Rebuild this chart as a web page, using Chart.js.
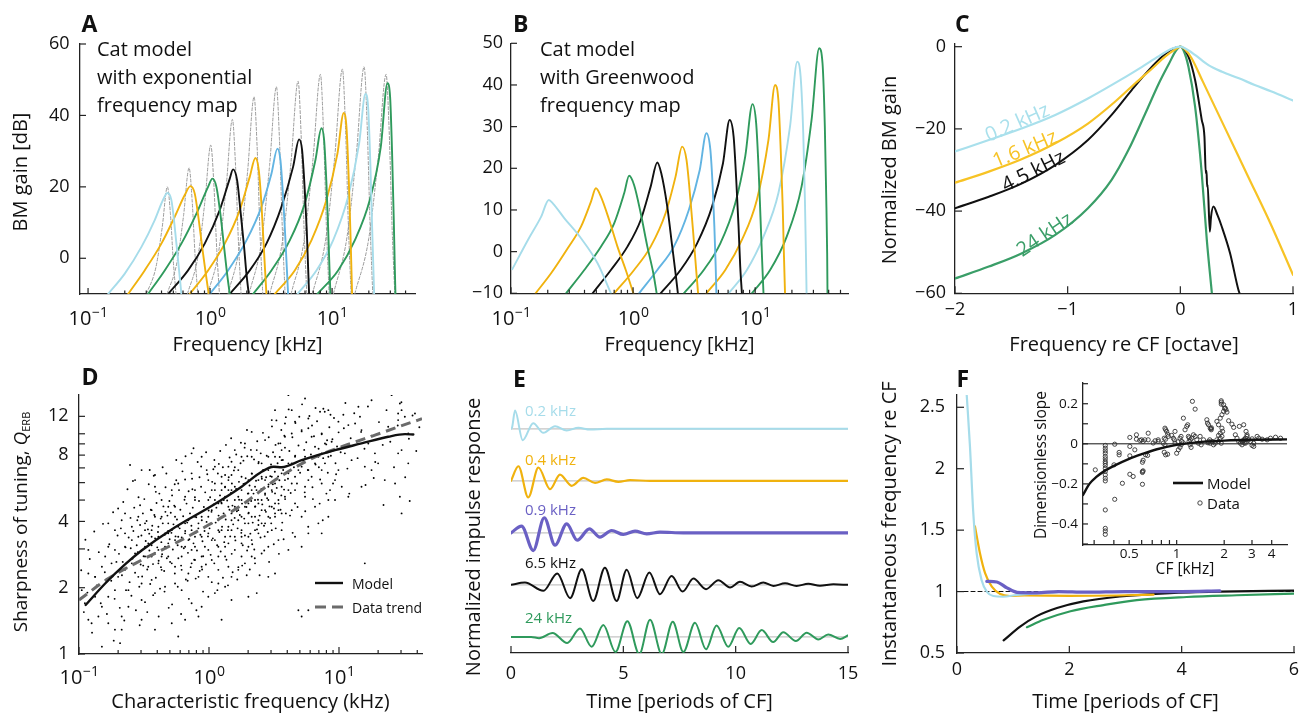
<!DOCTYPE html>
<html><head><meta charset="utf-8">
<script src="https://cdn.jsdelivr.net/npm/chart.js@4.4.1/dist/chart.umd.min.js"></script>
<style>
html,body{margin:0;padding:0;background:#fff;}
#wrap{position:relative;width:1311px;height:716px;overflow:hidden;background:#fff;}
canvas{position:absolute;}
</style></head><body>
<div id="wrap">
<canvas id="cA" width="430" height="362" style="left:0px;top:0px;width:430px;height:362px"></canvas>
<canvas id="cB" width="430" height="362" style="left:440px;top:0px;width:430px;height:362px"></canvas>
<canvas id="cC" width="441" height="362" style="left:870px;top:0px;width:441px;height:362px"></canvas>
<canvas id="cD" width="430" height="386" style="left:0px;top:330px;width:430px;height:386px"></canvas>
<canvas id="cE" width="430" height="386" style="left:440px;top:330px;width:430px;height:386px"></canvas>
<canvas id="cF" width="441" height="386" style="left:870px;top:330px;width:441px;height:386px"></canvas>
<canvas id="cI" width="270" height="215" style="left:1030px;top:370px;width:270px;height:215px"></canvas>
</div>
<script>
// ---------------- DATA ----------------
// Panel A: BM gain (kHz, dB), exponential map
const aLB1=[[0.146,-10],[0.2,-4.3],[0.274,3.2],[0.352,10.7],[0.412,16.4],[0.447,18.3],[0.482,16.3],[0.513,8.8],[0.54,1.3],[0.564,-5.2],[0.582,-10]];
const aGD1=[[0.213,-10],[0.291,-3.4],[0.399,4.1],[0.513,11.6],[0.62,17.7],[0.69,20.2],[0.749,18.1],[0.808,10.7],[0.861,3.2],[0.922,-4.3],[0.975,-10]];
const aGN1=[[0.31,-10],[0.425,-3.4],[0.582,4.1],[0.773,12.5],[0.963,20],[1.045,22.3],[1.127,20],[1.223,11.6],[1.302,3.2],[1.378,-4.3],[1.45,-10]];
const aBK1=[[0.453,-10],[0.66,-3.4],[0.904,4.1],[1.2,13.5],[1.45,22.3],[1.543,24.9],[1.665,21.9],[1.784,12.5],[1.9,3.2],[1.986,-4.3],[2.075,-10]];
const aGD2=[[0.681,-10],[0.963,-3.4],[1.319,4.1],[1.751,13.5],[2.114,22.8],[2.353,28.1],[2.506,24.7],[2.635,15.3],[2.737,5.0],[2.824,-3.4],[2.896,-10]];
const aSK1=[[0.994,-10],[1.404,-3.4],[1.986,5.0],[2.635,14.4],[3.183,23.7],[3.564,30.7],[3.772,27.5],[3.967,17.2],[4.12,6.9],[4.251,-2.4],[4.359,-10]];
const aBK2=[[1.45,-10],[2.114,-3.4],[2.896,4.1],[3.844,14.4],[4.789,25.6],[5.364,33.3],[5.677,30.3],[5.97,19.1],[6.199,7.9],[6.357,-2.4],[6.478,-10]];
const aGN2=[[2.252,-10],[3.183,-3.4],[4.498,5.0],[5.97,15.3],[7.302,27.5],[8.177,36.4],[8.6,33.1],[8.987,20.9],[9.273,8.8],[9.508,-2.4],[9.69,-10]];
const aGD3=[[3.388,-10],[4.943,-3.4],[6.77,5.0],[8.987,16.3],[11.06,29.3],[12.46,40.7],[13.11,36.8],[13.7,21.9],[14.14,6.9],[14.41,-3.4],[14.58,-10]];
const aLB2=[[5.197,-10],[7.441,-3.4],[10.19,5.0],[13.53,17.2],[16.65,32.1],[18.76,46.0],[19.73,42.4],[20.62,25.6],[21.28,8.8],[21.82,-3.4],[22.1,-10]];
const aGN3=[[7.583,-10],[11.2,-3.4],[15.34,5.0],[20.36,16.3],[25.06,31.2],[28.41,49.0],[29.88,45.2],[31.03,29.3],[32.03,10.7],[32.64,-2.4],[33.04,-10]];
// Panel A: grey dashed reference curves
const aRef1=[[0.301,-10],[0.36,-2.5],[0.405,8.6],[0.447,20],[0.473,12.5],[0.5,-1],[0.526,-10]];
const aRef2=[[0.444,-10],[0.535,-1.2],[0.606,11.9],[0.673,25.3],[0.712,16.5],[0.754,0.6],[0.792,-10]];
const aRef3=[[0.652,-10],[0.795,0.4],[0.907,15.9],[1.013,31.7],[1.072,21.3],[1.134,2.5],[1.193,-10]];
const aRef4=[[0.957,-10],[1.18,2.2],[1.357,20.3],[1.524,38.9],[1.613,26.7],[1.707,4.7],[1.795,-10]];
const aRef5=[[1.404,-10],[1.752,3.8],[2.029,24.2],[2.295,45.2],[2.428,31.4],[2.569,6.6],[2.703,-10]];
const aRef6=[[2.088,-10],[2.634,4.5],[3.074,26],[3.498,48],[3.701,33.5],[3.917,7.4],[4.12,-10]];
const aRef7=[[3.083,-10],[3.924,4.9],[4.607,27],[5.264,49.6],[5.571,34.7],[5.896,7.9],[6.199,-10]];
const aRef8=[[4.613,-10],[5.918,5.4],[6.988,28.1],[8.025,51.5],[8.492,36.1],[8.987,8.5],[9.45,-10]];
const aRef9=[[6.9,-10],[8.904,5.75],[10.55,29.1],[12.15,53],[12.86,37.25],[13.61,8.9],[14.31,-10]];
const aRef10=[[10.25,-10],[13.24,5.9],[15.83,29.4],[18.3,53.6],[19.36,37.7],[20.49,9.1],[21.54,-10]];
const aRef11=[[15.34,-10],[19.94,5.4],[23.89,28.1],[27.71,51.5],[29.33,36.1],[31.03,8.5],[32.64,-10]];
// Panel B: BM gain (kHz, dB), Greenwood map
const bLB1=[[0.1025,-4.2],[0.1376,2.8],[0.1767,8.4],[0.204,12.4],[0.22,11.6],[0.274,8.0],[0.3745,3.2],[0.512,-2.8],[0.658,-10]];
const bGD1=[[0.159,-10],[0.213,-5.2],[0.2915,0.8],[0.3745,6],[0.452,12],[0.496,15.2],[0.545,13.2],[0.637,7.6],[0.745,1.2],[0.871,-4.4],[1.006,-10]];
const bGN1=[[0.2825,-10],[0.3985,-4.4],[0.545,1.2],[0.70,6.8],[0.845,14],[0.928,18.2],[1.019,16],[1.155,9.2],[1.309,1.2],[1.465,-5.2],[1.56,-10]];
const bBK1=[[0.466,-10],[0.658,-4.4],[0.899,1.2],[1.155,7.6],[1.393,15.6],[1.579,21.4],[1.702,18.8],[1.905,10.8],[2.093,1.2],[2.228,-5.2],[2.328,-10]];
const bGD2=[[0.70,-10],[1.019,-4.4],[1.393,1.2],[1.846,9.2],[2.228,18],[2.524,25.2],[2.739,22],[2.951,12.4],[3.143,2.8],[3.304,-5.2],[3.408,-10]];
const bSK1=[[1.119,-10],[1.579,-4.4],[2.158,1.2],[2.861,10],[3.516,19.6],[3.986,28.4],[4.296,24.4],[4.487,15.6],[4.632,6],[4.75,-3.6],[4.81,-10]];
const bBK2=[[1.681,-10],[2.447,-4.4],[3.345,2],[4.435,10.8],[5.451,21.2],[6.178,31.6],[6.66,27.6],[7.0,17.2],[7.31,6],[7.546,-3.6],[7.786,-10]];
const bGN2=[[2.605,-10],[3.793,-4.4],[5.186,2],[6.871,11.6],[8.287,22.8],[9.513,35.4],[10.19,30.8],[10.65,20.4],[11.05,8.4],[11.4,-2],[11.7,-10]];
const bGD3=[[3.986,-10],[5.693,-4.4],[7.786,2.8],[10.32,12.4],[12.85,26.8],[14.56,40],[15.49,36.4],[16.19,24.4],[16.81,10.8],[17.22,-1.2],[17.56,-10]];
const bLB2=[[6.062,-10],[8.55,-4.4],[11.7,3.6],[15.49,14],[19.29,30],[22.13,45.6],[23.57,42],[24.77,28.4],[25.56,12.4],[26.05,-0.4],[26.37,-10]];
const bGN3=[[9.394,-10],[13.26,-4.4],[18.13,3.6],[23.99,15.6],[28.97,31.6],[33.46,48.8],[35.62,45.2],[37.21,30],[38.15,14],[38.88,-0.4],[39.12,-10]];
// Panel C: normalized gain (octave re CF, dB)
const c02=[[-2,-25.5],[-1.7,-22.7],[-1.41,-19.9],[-1.11,-16.6],[-0.82,-12.6],[-0.52,-7.9],[-0.34,-4.9],[-0.19,-2.3],[-0.076,-0.5],[0,0],[0.04,-0.4],[0.13,-2.0],[0.25,-4.5],[0.37,-6.1],[0.52,-7.7],[0.66,-9.3],[0.81,-10.9],[1,-13.1]];
const c16=[[-2,-33.1],[-1.7,-30.4],[-1.41,-27.4],[-1.11,-23.5],[-0.82,-18.7],[-0.58,-13.4],[-0.4,-8.9],[-0.25,-5.3],[-0.135,-2.4],[-0.044,-0.65],[0,0],[0.04,-0.6],[0.1,-2.8],[0.2,-8.5],[0.4,-20],[0.6,-31.5],[0.8,-43],[1,-55.5]];
const c45=[[-2,-39.3],[-1.7,-36.5],[-1.41,-33.3],[-1.11,-28.8],[-0.82,-22.7],[-0.61,-16.6],[-0.43,-10.5],[-0.28,-5.7],[-0.16,-2.4],[-0.06,-0.4],[0,0],[0.072,-2.4],[0.131,-8.1],[0.19,-17.8],[0.214,-21.9],[0.226,-30.8],[0.232,-30.2],[0.238,-34.1],[0.242,-33.5],[0.262,-45],[0.272,-41.5],[0.294,-38.9],[0.33,-41],[0.368,-43.8],[0.442,-50.3],[0.516,-59.2],[0.54,-61]];
const c24=[[-2,-56.4],[-1.7,-53.5],[-1.41,-50.3],[-1.11,-45.8],[-0.82,-39.3],[-0.61,-32.4],[-0.46,-25.1],[-0.31,-16.2],[-0.19,-8.9],[-0.1,-4.1],[-0.044,-1.2],[0,0],[0.03,-1],[0.072,-4.9],[0.131,-14.6],[0.19,-30.8],[0.235,-47],[0.28,-60]];
// Panel D: Q_ERB vs CF
const dModel=[[0.1125,1.67],[0.159,2.09],[0.226,2.55],[0.303,2.95],[0.516,3.68],[1.11,4.8],[1.78,5.75],[2.54,6.72],[3.13,7.08],[3.62,7.05],[5.16,7.59],[9.31,8.43],[14.9,9.04],[23.9,9.69],[32.2,9.96],[37.3,9.93]];
const dTrend=[[0.1,1.76],[0.168,2.2],[0.303,2.67],[0.548,3.18],[0.988,3.85],[1.78,4.74],[3.22,6.16],[5.81,7.59],[10.5,8.73],[18.9,9.86],[34.1,11.14],[43.5,11.7]];
const dUnits1=[[4.08,14.98],[5.48,14.46],[7.58,13.0],[7.15,12.6],[8.28,12.8],[14.1,13.26],[17.8,14.2],[29.4,13.73],[25.4,14.98],[28.5,12.37],
[30.3,12.8],[14.5,11.94],[10.8,12.2],[9.9,11.35],[11.8,10.95],[13.3,11.14],[5.81,11.74],[4.33,12.8],[3.84,11.14],[4.59,11.35],
[3.22,12.8],[3.04,11.54],[3.84,9.69],[4.33,10.03],[5.16,10.39],[5.81,10.6],[6.16,9.69],[7.36,10.03],[7.8,9.04],[8.78,9.2],
[6.54,8.73],[8.28,7.86],[11.1,8.15],[12.5,7.59],[15.8,7.09],[17.8,6.84],[20.0,7.34],[22.5,6.16],[14.9,5.75],[9.9,6.84],
[9.32,6.16],[8.53,5.55],[7.36,6.84],[7.36,5.95],[5.81,6.16],[5.48,5.18],[4.59,4.83],[4.33,4.5],[3.62,4.35],[3.22,5.36],
[4.08,5.55],[5.48,7.86],[4.33,7.34],[3.62,8.43],[3.22,7.86],[2.86,6.84],[2.54,7.34],[2.33,8.43],[2.13,10.2],[1.89,9.04],
[1.78,7.86],[1.58,8.43],[1.49,7.46],[1.49,6.5],[1.41,7.09],[1.25,6.38],[1.11,5.95],[1.25,5.55],[1.33,5.18],[1.18,4.83],
[1.05,5.55],[0.988,6.16],[0.878,7.86],[0.96,6.84],[0.735,6.61],[0.616,7.34],[0.735,8.15],[0.78,5.55],[0.655,5.18],[0.58,5.95],
[0.517,5.55],[0.486,4.66],[0.432,5.0],[0.384,5.75],[0.384,6.5],[0.303,6.84],[0.27,6.16],[0.247,7.21],[0.226,4.35],[0.2,4.58],
[0.213,4.05],[0.295,4.74],[0.362,4.5],[0.322,3.92],[0.408,3.78],[0.486,3.92],[0.548,4.2],[0.655,3.92],[0.735,3.65],[0.878,4.2],
[1.05,4.5],[1.25,4.2],[1.49,4.35],[1.58,4.66],[1.78,5.0],[2.01,5.36],[2.26,5.75],[2.54,5.55],[2.7,6.16],[2.86,5.0],
[2.54,4.5],[2.26,4.2],[2.01,3.92],[1.78,3.65],[1.58,3.41],[1.41,3.18],[1.18,3.07],[0.988,2.97],[0.878,2.77],[0.78,3.07],
[0.694,3.29],[0.58,3.41],[0.486,3.18],[0.408,2.97],[0.362,2.77],[0.322,3.07],[0.286,3.41],[0.255,3.29],[0.226,3.07],[0.189,2.97],
[0.168,3.07],[0.159,2.77],[0.118,2.97],[0.118,2.32],[0.133,2.24],[0.15,2.49],[0.178,2.58],[0.2,2.24],[0.24,1.95],[0.303,2.09],
[0.362,2.17],[0.432,2.41],[0.517,2.58],[0.616,2.77],[0.735,2.58],[0.878,2.49],[1.05,2.67],[1.18,2.41],[1.33,2.77],[1.58,2.97],
[1.78,3.18],[2.13,3.29],[2.4,3.53],[2.7,3.92],[3.04,3.65],[3.22,4.2],[3.62,3.65],[3.42,3.29],[2.86,3.07],[2.54,2.86],
[2.13,2.77],[1.89,2.58],[1.68,2.41],[1.49,2.24],[1.33,2.02],[1.11,1.89],[0.988,1.82],[0.878,1.64],[0.735,1.70],[0.616,1.95],
[0.548,2.09],[0.459,2.02],[0.384,1.89],[0.303,1.76],[0.24,1.64],[0.213,1.48],[0.168,1.38],[0.15,1.64],[0.118,1.43],[0.125,1.38],
[0.213,1.29],[0.189,1.29],[0.15,1.08],[0.207,1.12],[0.303,1.43],[0.384,1.29],[0.517,1.38],[0.655,1.43],[0.83,1.48],[0.58,1.20],
[1.25,1.43],[2.01,1.82],[2.33,1.89],[1.49,1.76],[2.86,2.24],[3.22,2.32],[4.08,2.97],[4.59,3.41],[5.16,3.07],[5.81,3.53],
[6.94,3.92],[8.28,4.2],[7.36,3.53],[5.16,4.2],[6.54,4.66],[9.32,5.0],[10.5,5.75],[11.8,5.18],[8.28,5.0],[5.48,5.75],
[4.59,6.38],[30.3,4.35],[15.8,2.58],[5.16,1.48],[5.81,1.58],[4.87,1.58],[28.5,11.54],[34.1,10.03],[30.3,8.43],[34.1,7.34],
[28.5,8.15],[29.4,5.18],[18.9,8.15],[16.8,9.04],[14.9,10.39],[23.9,10.76],[32.1,11.94],[38.4,12.37],[3.62,6.61],[3.22,5.95],
[3.04,4.66],[3.84,5.18],[2.4,4.83],[2.01,4.35],[1.68,4.05],[1.41,3.78],[1.18,3.65],[0.988,3.53],[0.78,3.41],[0.616,3.07],
[0.459,3.53],[0.362,3.41],[0.322,3.65],[0.432,4.2],[0.548,4.66],[0.988,5.0],[1.33,5.75],[1.78,6.38],[2.13,6.61],[1.58,5.75],
[1.11,7.09],[0.78,5.0],[2.26,2.58],[1.78,2.77],[2.01,3.07],[1.41,2.49],[1.18,2.09],[0.988,2.24],[0.83,2.24],[0.694,2.32],
[0.548,2.49],[0.432,2.77],[0.341,2.49],[0.286,2.24],[0.255,2.58],[0.226,2.41],[0.189,1.95],[0.168,1.82],[0.133,1.82],[0.111,1.70],[0.141,1.48],
[1.49,5.55],[1.68,5.18],[1.89,5.95],[2.01,4.83],[2.13,5.55],[2.26,5.0],[2.4,6.16],[2.54,6.38],[2.7,5.36],[2.86,5.75],
[3.04,6.38],[3.42,5.0],[3.62,5.75],[3.84,6.16],[4.08,6.61],[4.33,5.95],[4.59,5.55],[4.87,6.84],[5.16,7.09],[5.81,6.84],
[6.16,6.38],[6.54,7.34],[6.94,7.86],[7.36,8.15],[7.8,7.34],[2.54,3.92],[2.26,3.65],[2.01,3.41],[1.78,3.41],[1.68,4.5],
[1.49,4.05],[1.41,4.66],[1.25,4.83],[1.18,4.05],[1.11,5.0],[1.05,3.92],[0.93,3.78],[0.878,3.41],[0.83,3.92],[0.78,4.2],
[0.694,4.05],[0.655,3.53],[0.58,3.78],[0.548,3.29],[0.517,3.65],[0.486,3.53],[0.459,3.07],[0.408,3.41],[0.362,3.65],[0.341,3.18],
[0.988,4.2],[1.11,3.29],[1.25,3.65],[1.33,3.41],[1.49,3.65],[1.78,4.2],[1.89,3.92],[2.13,4.2],[2.4,4.05],[2.7,4.5],
[2.86,4.2],[3.22,4.83],[3.42,4.5],[3.04,5.55],[2.54,5.0],[2.26,4.66],[1.89,4.66],[1.58,5.0],[1.41,5.55],[1.25,5.95],
[2.01,6.16],[1.78,5.55],[1.68,6.84],[1.41,6.16],[3.22,7.09],[3.62,7.59],[4.08,7.34],[4.59,7.86],[3.42,9.04],[2.86,7.86],
[2.7,9.36],[2.4,7.34],[2.13,7.86],[0.735,2.97],[0.655,3.07],[0.78,2.67],[0.93,3.07],[1.05,3.29],[1.18,2.77],[1.33,3.07],
[0.616,2.41],[0.486,2.77],[0.408,2.58],[0.322,2.77],[0.27,2.86],[0.255,3.78],[0.286,4.2],[0.384,4.2],[0.226,3.53],[0.189,3.65],
[0.168,3.92],[0.133,2.24],[0.105,1.95]];
const dUnits2=[[0.104,2.4],[0.109,1.55],[0.112,3.3],[0.116,1.9],[0.121,2.7],[0.126,1.25],[0.131,3.6],[0.137,2.05],[0.142,2.9],[0.147,1.7],[0.153,3.9],[0.158,2.35],[0.164,1.52],[0.171,3.15],[0.177,2.15],[0.183,4.4],[0.188,1.78],[0.194,2.62],[0.198,3.45],[0.185,1.15],
[0.203,2.85],[0.206,1.62],[0.21,3.72],[0.214,2.28],[0.219,4.9],[0.223,1.42],[0.228,3.05],[0.232,2.46],[0.236,5.6],[0.241,3.38],[0.245,2.12],[0.249,4.15],[0.253,1.84],[0.258,2.71],[0.262,3.62],[0.266,4.62],[0.27,2.34],[0.274,1.58],[0.278,3.12],[0.283,2.9],[0.287,5.15],[0.291,2.02],[0.295,3.85],[0.298,2.55],[0.26,6.1],[0.23,1.95],[0.25,3.02],[0.281,4.05],[0.217,2.62],[0.293,1.35],
[0.302,3.45],[0.306,2.25],[0.31,4.35],[0.314,2.78],[0.318,5.05],[0.322,1.72],[0.326,3.26],[0.331,4.02],[0.335,2.42],[0.339,3.68],[0.344,5.9],[0.348,2.95],[0.353,2.08],[0.357,4.52],[0.362,3.12],[0.366,3.82],[0.371,2.56],[0.376,6.45],[0.38,4.28],[0.385,3.35],[0.39,2.22],[0.395,4.85],[0.4,3.05],[0.405,3.58],[0.41,2.65],[0.415,5.35],[0.42,1.98],[0.425,4.12],[0.43,3.22],[0.436,2.84],[0.441,3.92],[0.446,4.68],[0.452,2.38],[0.457,3.48],[0.463,5.72],[0.468,3.02],[0.474,2.72],[0.479,4.25],[0.485,3.62],[0.49,1.62],[0.496,4.95],[0.335,1.55],[0.372,1.85],[0.41,1.48],[0.455,1.92],[0.47,6.6],[0.44,7.05],[0.39,5.45],[0.35,6.85],[0.312,2.52],[0.427,2.48],[0.462,4.42],[0.498,3.32],[0.383,2.88],[0.347,3.52],
[0.502,2.62],[0.508,4.38],[0.514,3.55],[0.52,5.25],[0.527,2.98],[0.533,3.88],[0.54,4.72],[0.546,2.32],[0.553,3.42],[0.56,6.15],[0.567,4.08],[0.574,3.12],[0.581,2.72],[0.588,5.55],[0.595,3.72],[0.602,4.52],[0.61,2.52],[0.617,3.38],[0.625,6.75],[0.633,4.22],[0.64,3.02],[0.648,5.02],[0.656,3.62],[0.664,2.18],[0.672,4.82],[0.68,3.95],[0.689,2.88],[0.697,5.48],[0.706,3.32],[0.714,4.35],[0.723,2.48],[0.732,3.82],[0.741,6.25],[0.75,4.62],[0.76,3.18],[0.769,2.68],[0.779,5.15],[0.788,3.55],[0.798,4.18],[0.808,2.95],[0.818,7.45],[0.828,3.72],[0.838,4.95],[0.848,2.38],[0.859,3.48],[0.869,5.75],[0.88,4.05],[0.891,3.25],[0.902,2.78],[0.913,4.65],[0.924,3.62],[0.935,5.42],[0.947,2.55],[0.958,3.98],[0.97,6.55],[0.982,3.42],[0.994,4.48],[0.52,1.68],[0.61,1.52],[0.7,1.78],[0.8,1.58],[0.9,1.92],[0.56,7.6],[0.66,7.9],[0.76,8.6],[0.87,7.1],[0.95,8.25],[0.575,2.02],[0.685,2.15],[0.79,2.2],[0.885,2.42],[0.545,5.9],[0.655,6.2],[0.745,5.6],[0.845,6.35],
[1.01,3.72],[1.02,5.15],[1.03,2.82],[1.045,4.42],[1.058,6.05],[1.07,3.35],[1.085,4.78],[1.098,2.58],[1.11,5.55],[1.125,3.95],[1.14,4.62],[1.155,3.12],[1.17,6.6],[1.185,4.25],[1.2,3.58],[1.215,5.25],[1.23,2.92],[1.245,4.88],[1.26,3.78],[1.278,7.05],[1.295,4.35],[1.31,3.22],[1.328,5.72],[1.345,4.08],[1.362,2.68],[1.38,4.98],[1.4,3.65],[1.418,6.35],[1.437,4.52],[1.456,3.42],[1.475,5.38],[1.495,2.85],[1.515,4.72],[1.535,3.88],[1.555,6.82],[1.575,4.15],[1.596,3.28],[1.617,5.62],[1.638,4.45],[1.66,3.72],[1.682,2.48],[1.704,5.02],[1.726,4.28],[1.749,7.35],[1.772,3.55],[1.795,4.82],[1.818,3.12],[1.842,5.92],[1.866,4.12],[1.89,3.45],[1.915,6.28],[1.94,4.65],[1.965,2.95],[1.99,5.35],[1.05,2.12],[1.16,1.95],[1.28,2.22],[1.4,2.05],[1.52,2.35],[1.65,2.18],[1.8,2.52],[1.95,2.28],[1.1,7.6],[1.22,8.35],[1.35,8.9],[1.48,9.55],[1.62,8.05],[1.76,9.1],[1.88,8.65],[1.96,10.4],[1.08,6.9],[1.19,7.3],[1.33,6.5],[1.44,7.8],[1.58,7.05],[1.7,6.05],[1.84,7.55],[1.97,7.9],[1.5,5.95],[1.3,5.0],
[2.02,4.38],[2.05,5.82],[2.08,3.52],[2.11,4.95],[2.14,6.58],[2.17,3.95],[2.2,5.35],[2.23,2.98],[2.27,4.68],[2.3,6.12],[2.34,3.68],[2.38,5.02],[2.41,7.45],[2.45,4.25],[2.49,3.38],[2.53,5.62],[2.57,4.78],[2.61,6.85],[2.65,3.82],[2.7,5.28],[2.74,4.42],[2.78,7.95],[2.83,3.58],[2.87,5.88],[2.92,4.68],[2.96,6.42],[3.01,3.92],[3.06,5.45],[3.11,8.25],[3.16,4.58],[3.21,6.72],[3.26,3.72],[3.32,5.68],[3.37,7.35],[3.43,4.82],[3.48,6.15],[3.54,9.05],[3.6,5.25],[3.66,3.95],[3.72,6.85],[3.78,5.58],[3.84,8.65],[3.9,4.35],[3.96,7.15],[2.06,2.42],[2.25,2.72],[2.45,2.28],[2.66,2.95],[2.9,2.62],[3.15,3.15],[3.45,2.85],[3.75,3.32],[2.1,8.45],[2.35,9.25],[2.6,10.1],[2.88,9.65],[3.05,10.8],[3.3,11.5],[3.6,10.4],[3.9,11.9],[2.22,7.65],[2.5,8.15],[2.75,6.35],[3.0,7.25],[3.25,8.9],[3.5,7.85],[3.8,9.8],[2.15,3.15],[2.4,3.85],[2.68,3.42],[2.95,4.15],[3.22,4.35],[3.55,4.52],[3.85,5.05],[2.32,5.55],[2.55,6.25],[2.8,5.1],[3.1,5.9],[3.4,6.4],[3.7,7.6],
[4.05,6.25],[4.15,8.35],[4.25,5.38],[4.38,9.65],[4.5,7.05],[4.62,11.2],[4.75,5.95],[4.88,8.85],[5.02,6.65],[5.16,10.25],[5.3,7.55],[5.45,5.42],[5.6,9.15],[5.76,6.85],[5.92,12.05],[6.08,8.05],[6.25,5.72],[6.42,9.75],[6.6,7.25],[6.78,11.4],[6.97,8.55],[7.16,6.2],[7.36,9.95],[7.56,7.75],[7.77,12.6],[7.98,8.95],[8.2,6.65],[8.43,10.7],[8.66,7.95],[8.9,9.45],[9.15,11.8],[9.4,7.35],[9.66,8.75],[9.93,10.15],[4.2,4.25],[4.8,4.65],[5.5,4.45],[6.3,5.05],[7.1,4.82],[8.0,5.35],[9.0,5.95],[4.4,3.55],[5.8,3.78],[7.5,4.05],[4.1,12.9],[5.2,13.6],[6.6,13.1],[8.6,12.2],[4.6,7.95],[5.4,8.45],[6.2,10.9],[7.0,7.05],[8.1,9.35],[9.5,6.55],[4.95,11.95],
[10.3,8.25],[10.9,10.6],[11.6,6.95],[12.3,9.55],[13.1,12.4],[13.9,7.75],[14.8,10.2],[15.7,8.55],[16.7,13.3],[17.8,9.8],[19.0,7.45],[20.3,11.3],[21.7,8.9],[23.2,12.8],[24.8,9.2],[26.5,7.05],[28.3,10.9],[30.2,13.9],[32.3,6.35],[34.5,9.5],[36.8,12.1],[39.3,8.35],[41.5,10.7],[12.0,5.35],[16.0,5.85],[22.0,4.75],[27.0,5.95],[35.0,4.95],[18.5,6.3],[11.2,13.8]];
// Panel E: impulse responses (time in CF periods, offset response)
const e02=[[0,4],[0.05,4.03],[0.18,4.35],[0.52,3.78],[0.99,4.109],[1.44,3.923],[1.96,4.051],[2.48,3.968],[3.0,4.019],[3.52,3.987],[4.26,4],[15,4]];
const e04=[[0,3],[0.33,3.28],[0.77,2.68],[1.22,3.256],[1.74,2.84],[2.18,3.12],[2.7,2.904],[3.22,3.058],[3.74,2.962],[4.26,3.026],[4.78,2.981],[5.3,3.013],[6.19,3],[15,3]];
const e09=[[0,2],[0.47,2.128],[0.99,1.66],[1.48,2.29],[1.96,1.763],[2.48,2.173],[2.95,1.859],[3.49,2.077],[3.96,1.917],[4.48,2.045],[5.0,1.968],[5.52,2.032],[6.04,1.98],[6.63,2.013],[7.67,2],[15,2]];
const e65=[[0,1],[0.62,1.045],[1.44,0.885],[2.06,1.22],[2.63,0.744],[3.15,1.30],[3.66,0.69],[4.18,1.33],[4.70,0.69],[5.15,1.29],[5.62,0.744],[6.16,1.237],[6.63,0.82],[7.15,1.17],[7.64,0.87],[8.12,1.12],[8.68,0.917],[9.23,1.09],[9.75,0.95],[10.19,1.058],[10.71,0.968],[11.23,1.045],[11.68,0.98],[12.2,1.03],[12.71,0.98],[13.23,1.02],[13.75,0.985],[14.35,1.01],[15,1]];
const e24=[[0,0],[0.9,0],[1.25,-0.025],[1.85,0.075],[2.5,-0.12],[3.07,0.16],[3.59,-0.19],[4.11,0.23],[4.65,-0.29],[5.18,0.30],[5.71,-0.33],[6.19,0.33],[6.71,-0.33],[7.2,0.29],[7.67,-0.29],[8.19,0.27],[8.68,-0.24],[9.15,0.22],[9.67,-0.19],[10.16,0.17],[10.67,-0.135],[11.16,0.13],[11.67,-0.1],[12.12,0.09],[12.68,-0.08],[13.16,0.08],[13.68,-0.05],[14.12,0.045],[14.65,-0.04],[15,0.03]];
const eOffsets=[4,3,2,1,0];
// Panel F: instantaneous frequency re CF
const fLB=[[0.173,2.6],[0.231,2.18],[0.29,1.64],[0.35,1.31],[0.44,1.09],[0.53,1.0],[0.646,0.964],[0.82,0.958],[1.06,0.972],[1.42,0.986],[1.8,0.995]];
const fGD=[[0.32,1.53],[0.41,1.31],[0.5,1.15],[0.62,1.04],[0.77,0.98],[0.94,0.964],[1.2,0.968],[2,0.965],[3,0.97],[3.5,0.975]];
const fPU=[[0.53,1.083],[0.71,1.078],[0.89,1.03],[1.07,0.994],[1.42,0.99],[1.8,1.0],[2.3,0.995],[3,1.0],[4,1.0],[4.68,1.005]];
const fBK=[[0.83,0.603],[1.13,0.717],[1.42,0.80],[1.78,0.866],[2.25,0.92],[2.9,0.96],[3.79,0.988],[4.68,1.0],[6,1.007]];
const fGN=[[1.245,0.71],[1.54,0.77],[2.02,0.84],[2.61,0.89],[3.2,0.93],[4.09,0.956],[4.98,0.97],[6,0.983]];
const fRef=[[0,1],[6,1]];
// Inset: dimensionless slope vs CF
const insModel=[[0.255,-0.255],[0.28,-0.2],[0.31,-0.165],[0.35,-0.135],[0.4,-0.11],[0.5,-0.075],[0.6,-0.052],[0.75,-0.027],[1,-0.005],[1.3,0.006],[1.6,0.012],[2,0.016],[3,0.02],[5,0.022]];
const insZero=[[0.255,0],[5,0]];
const insData=[[0.305,-0.13],[0.353,-0.008],[0.353,-0.022],[0.353,-0.035],[0.353,-0.047],[0.353,-0.063],[0.353,-0.075],[0.353,-0.088],[0.353,-0.097],[0.353,-0.108],[0.353,-0.122],[0.353,-0.138],[0.353,-0.155],[0.353,-0.172],[0.353,-0.185],[0.353,-0.33],[0.353,-0.422],[0.353,-0.435],[0.353,-0.452],
[0.405,-0.002],[0.401,-0.105],[0.405,-0.277],[0.432,-0.043],[0.432,-0.055],[0.453,-0.197],[0.505,0.032],[0.505,-0.013],[0.505,-0.06],[0.505,-0.152],[0.53,-0.163],[0.556,0.045],[0.556,0.023],[0.543,-0.03],
[0.584,0.017],[0.598,0.02],[0.613,0.012],[0.628,0.02],[0.607,-0.092],[0.613,-0.082],[0.607,-0.138],[0.607,-0.143],[0.613,-0.135],[0.607,-0.202],[0.635,-0.055],[0.66,0.053],[0.66,0.02],[0.654,-0.058],
[0.764,0.02],[0.764,0.012],[0.843,0.078],[0.851,0.07],[0.864,0.062],[0.876,0.048],[0.885,0.037],[0.834,0.028],[0.851,0.023],[0.822,0.003],[0.843,-0.005],[0.834,-0.042],[0.851,-0.055],[0.876,-0.052],
[0.929,0.042],[0.952,0.028],[0.966,0.02],[0.976,0.003],[1.0,-0.047],[0.976,0.062],[1.05,0.028],[1.066,0.037],[1.076,0.012],[1.066,-0.005],[1.05,-0.018],[1.025,-0.03],[1.103,0.128],[1.13,0.07],[1.158,0.087],[1.175,0.095],[1.187,0.037],[1.198,0.012],[1.216,-0.005],[1.234,-0.018],
[1.258,0.212],[1.309,0.173],[1.246,0.028],[1.277,0.045],[1.309,0.037],[1.341,0.02],[1.374,0.003],[1.408,0.037],[1.429,-0.005],[1.479,0.02],[1.553,0.12],[1.568,0.103],[1.591,0.095],[1.631,0.078],[1.655,0.07],
[1.591,0.012],[1.631,0.003],[1.671,0.012],[1.712,-0.005],[1.754,0.003],[1.798,0.02],[1.842,0.012],[1.888,0.028],[1.935,0.037],[1.916,0.003],[1.798,0.112],[1.842,0.095],[1.888,0.128],[1.935,0.145],[1.983,0.162],[2.032,0.178],[2.082,0.158],[1.935,0.078],[1.954,0.062],[1.888,0.053],[1.842,0.042],
[1.916,0.215],[1.916,0.208],[1.916,0.198],[1.983,0.195],[2.012,0.178],[2.052,0.17],[2.134,0.115],[2.24,0.098],[2.296,0.082],[2.353,0.045],[2.411,0.028],[2.471,0.012],[2.532,0.003],[2.594,0.012],[2.659,0.02],[2.724,0.028],[2.791,0.037],[2.724,0.003],[2.594,-0.005],
[2.495,0.087],[2.659,0.095],[2.751,0.062],[2.791,0.045],[2.86,0.02],[2.931,0.012],[3.004,0.025],[3.078,0.003],[3.233,0.037],[3.313,0.028],[3.004,-0.008],[3.078,-0.013],[3.479,0.023],[3.743,0.02],[3.93,0.028],[4.23,0.033],[4.55,0.028],
[1.65,0.075],[1.66,0.08],[1.7,0.01],[2.62,0.01],[2.65,0.015],[2.68,0.005],[2.7,0.02],[1.62,0.02],[1.58,0.005],[0.71,0.004],[0.73,0.015],[1.2,0.03],[1.22,0.02],[1.1,0.005],[1.02,0.01]];
// Tick values and labels
const logMajor=[0.1,1,10], logExp=['\u22121','0','1'];
const logMinorA=[0.2,0.3,0.4,0.5,0.6,0.7,0.8,0.9,2,3,4,5,6,7,8,9,20,30,40];
const logMinorB=[0.2,0.3,0.4,0.5,0.6,0.7,0.8,0.9,2,3,4,5,6,7,8,9,20,30,40,50];
const aYTicks=[0,20,40,60], bYTicks=[-10,0,10,20,30,40,50];
const cXTicks=[-2,-1,0,1], cYTicks=[-60,-40,-20,0];
const dYTicks=[1,2,3,4,5,6,7,8,9,10,12], dYLabels=[1,2,4,8,12];
const eXTicks=[0,5,10,15];
const fXTicks=[0,2,4,6], fYTicks=[0.5,1,1.5,2,2.5];
const iXTicks=[0.3,0.4,0.5,0.6,0.7,0.8,0.9,1,2,3,4], iXLabels=[0.5,1,2,3,4];
const iYTicks=[-0.5,-0.4,-0.3,-0.2,-0.1,0,0.1,0.2,0.3], iYLabels=[-0.4,-0.2,0,0.2];

// ---------------- STYLE ----------------
const FONT='"Open Sans", "Noto Sans", sans-serif';
const AX='#222';
const LB='#a6dcea', GD='#f0b20e', GN='#2f9a5c', SK='#62b4e2', BK='#111111', PU='#6a60c4', GR='#9a9a9a';
const GDc='#f7c325', LBc='#a9e0ec', GNc='#3a9e68';
Chart.defaults.font.family=FONT;
Chart.defaults.color='#111';

function pts(arr){return arr.map(p=>({x:p[0],y:p[1]}));}
function L(arr,color,w,extra){return Object.assign({data:pts(arr),borderColor:color,backgroundColor:color,borderWidth:w,pointRadius:0,fill:false,cubicInterpolationMode:'monotone',borderCapStyle:'round',borderJoinStyle:'round'},extra||{});}
function fmt(v){return String(Math.round(v*1000)/1000).replace('-','\u2212');}
function S(o){
  return {type:o.type||'linear',min:o.min,max:o.max,bounds:'data',display:true,
    grid:{display:false,drawTicks:false},
    border:{display:o.border!==false,color:AX,width:1.3},
    ticks:{display:!!o.labels,font:{size:o.lsize||18},color:'#111',padding:o.lpad==null?8:o.lpad,autoSkip:false,maxRotation:0,minRotation:0,callback:(v)=>fmt(v)},
    afterBuildTicks:(sc)=>{sc.ticks=(o.labels||[o.min,o.max]).map(v=>({value:v}));},
    afterFit:(sc)=>{if(o.axis==='x')sc.height=o.size;else sc.width=o.size;},
    title:o.title?{display:true,text:o.title,font:{size:o.tsize||20},color:'#111',padding:{top:0,bottom:o.tpad}}:{display:false}};
}
function mk(id,pad,datasets,scales){
  return new Chart(document.getElementById(id),{type:'line',data:{datasets},options:{responsive:false,maintainAspectRatio:false,animation:false,devicePixelRatio:1,events:[],layout:{padding:pad},plugins:{legend:{display:false},tooltip:{enabled:false}},scales}});
}

const DECO={};
Chart.register({id:'deco',afterDraw(chart){
  const o=DECO[chart.canvas.id]; if(!o) return;
  const ctx=chart.ctx, ca=chart.chartArea, ox=o.ox, oy=o.oy;
  ctx.save();
  ctx.strokeStyle=AX; ctx.lineWidth=1.2; ctx.setLineDash([]);
  (o.ticks||[]).forEach(t=>{const sc=chart.scales[t.axis];
    t.values.forEach(v=>{const p=sc.getPixelForValue(v);ctx.beginPath();
      if(t.axis==='x'){ctx.moveTo(p,ca.bottom);ctx.lineTo(p,ca.bottom-t.len);}else{ctx.moveTo(ca.left,p);ctx.lineTo(ca.left+t.len,p);}
      ctx.stroke();});});
  if(o.pow){const P=o.pow, sc=chart.scales.x;
    ctx.fillStyle='#111'; ctx.textAlign='left'; ctx.textBaseline='alphabetic';
    P.values.forEach((v,i)=>{const px=sc.getPixelForValue(v);
      ctx.font=P.size+'px '+FONT; const w1=ctx.measureText('10').width;
      ctx.font=P.esize+'px '+FONT; const w2=ctx.measureText(P.exps[i]).width;
      const x0=px-(w1+w2)/2, by=ca.bottom+P.dy;
      ctx.font=P.size+'px '+FONT; ctx.fillText('10',x0,by);
      ctx.font=P.esize+'px '+FONT; ctx.fillText(P.exps[i],x0+w1+0.5,by-P.raise);});}
  (o.lines||[]).forEach(l=>{ctx.beginPath();ctx.strokeStyle=l.color;ctx.lineWidth=l.w;ctx.setLineDash(l.dash||[]);ctx.moveTo(l.x1-ox,l.y-oy);ctx.lineTo(l.x2-ox,l.y-oy);ctx.stroke();});
  ctx.setLineDash([]);
  (o.circles||[]).forEach(c=>{ctx.beginPath();ctx.strokeStyle=c.color;ctx.lineWidth=c.w;ctx.arc(c.x-ox,c.y-oy,c.r,0,Math.PI*2);ctx.stroke();});
  (o.texts||[]).forEach(t=>{let x,y;
    if(t.data){x=chart.scales.x.getPixelForValue(t.x);y=chart.scales.y.getPixelForValue(t.y);}else{x=t.x-ox;y=t.y-oy;}
    ctx.save();ctx.translate(x,y);if(t.rot)ctx.rotate(t.rot*Math.PI/180);
    ctx.fillStyle=t.color||'#111';ctx.textBaseline=t.base||'alphabetic';ctx.textAlign='left';
    const parts=t.parts||[{text:t.text,font:t.font}];
    let total=0;const ws=parts.map(p=>{ctx.font=p.font;const w=ctx.measureText(p.text).width;total+=w;return w;});
    let cx=t.align==='center'?-total/2:(t.align==='right'?-total:0);
    parts.forEach((p,i)=>{ctx.font=p.font;ctx.fillText(p.text,cx,p.dy||0);cx+=ws[i];});
    ctx.restore();});
  ctx.restore();
}});

const F=(s,b)=>(b?'bold ':'')+s+'px '+FONT;

// ---------------- PANEL A ----------------
DECO.cA={ox:0,oy:0,
  ticks:[{axis:'x',values:logMajor,len:6},{axis:'x',values:logMinorA,len:3.5},{axis:'y',values:aYTicks,len:6}],
  pow:{values:logMajor,exps:logExp,size:20,esize:14,dy:31,raise:8},
  texts:[{text:'A',x:81.5,y:31.5,font:F(23,1)},
    {text:'Cat model',x:97,y:56,font:F(20)},{text:'with exponential',x:97,y:84,font:F(20)},{text:'frequency map',x:97,y:112,font:F(20)},
    {text:'BM gain [dB]',x:21,y:172,font:F(20),rot:-90,align:'center',base:'middle'}]};
mk('cA',{left:0,top:44,right:15,bottom:0},[
  L(aLB1,LB,1.9),L(aGD1,GD,1.9),L(aGN1,GN,1.9),L(aBK1,BK,1.9),L(aGD2,GD,1.9),L(aSK1,SK,1.9),L(aBK2,BK,1.9),L(aGN2,GN,1.9),L(aGD3,GD,1.9),L(aLB2,LB,1.9),L(aGN3,GN,1.9),
  ...[aRef1,aRef2,aRef3,aRef4,aRef5,aRef6,aRef7,aRef8,aRef9,aRef10,aRef11].map(a=>L(a,GR,1,{borderDash:[3,2]}))
],{x:S({axis:'x',type:'logarithmic',min:0.0859,max:47.8,size:68,title:'Frequency [kHz]',tpad:4.7}),
   y:S({axis:'y',min:-10,max:60,size:80,labels:aYTicks,lpad:10.5})});

// ---------------- PANEL B ----------------
DECO.cB={ox:440,oy:0,
  ticks:[{axis:'x',values:logMajor,len:6},{axis:'x',values:logMinorB,len:3.5},{axis:'y',values:bYTicks,len:6}],
  pow:{values:logMajor,exps:logExp,size:20,esize:14,dy:31.5,raise:8},
  texts:[{text:'B',x:513,y:31.5,font:F(23,1)},
    {text:'Cat model',x:540,y:56,font:F(20)},{text:'with Greenwood',x:540,y:84,font:F(20)},{text:'frequency map',x:540,y:112,font:F(20)}]};
mk('cB',{left:0,top:43.3,right:22,bottom:0},[
  L(bLB1,LB,1.9),L(bGD1,GD,1.9),L(bGN1,GN,1.9),L(bBK1,BK,1.9),L(bGD2,GD,1.9),L(bSK1,SK,1.9),L(bBK2,BK,1.9),L(bGN2,GN,1.9),L(bGD3,GD,1.9),L(bLB2,LB,1.9),L(bGN3,GN,1.9)
],{x:S({axis:'x',type:'logarithmic',min:0.1,max:57.6,size:68.7,title:'Frequency [kHz]',tpad:4.7}),
   y:S({axis:'y',min:-10,max:50,size:71,labels:bYTicks,lpad:8})});

// ---------------- PANEL C ----------------
DECO.cC={ox:870,oy:0,
  ticks:[{axis:'x',values:cXTicks,len:7},{axis:'y',values:cYTicks,len:7}],
  texts:[{text:'C',x:955,y:31.5,font:F(23,1)},
    {text:'Normalized BM gain',x:890,y:170,font:F(20),rot:-90,align:'center',base:'middle'},
    {text:'0.2 kHz',data:true,x:-1.445,y:-18.6,rot:-23.7,align:'center',base:'middle',font:F(20),color:LBc},
    {text:'1.6 kHz',data:true,x:-1.377,y:-25.0,rot:-22.8,align:'center',base:'middle',font:F(20),color:GDc},
    {text:'4.5 kHz',data:true,x:-1.303,y:-30.4,rot:-26.6,align:'center',base:'middle',font:F(20),color:BK},
    {text:'24 kHz',data:true,x:-1.2,y:-45.8,rot:-34,align:'center',base:'middle',font:F(20),color:GNc}]};
mk('cC',{left:0,top:43.4,right:18,bottom:0},[
  L(c02,LBc,2.2),L(c16,GDc,2.2),L(c45,BK,2.0),L(c24,GNc,2.2)
],{x:S({axis:'x',min:-2,max:1,size:68.7,labels:cXTicks,lsize:18,lpad:5.9,title:'Frequency re CF [octave]',tpad:4.7}),
   y:S({axis:'y',min:-60,max:0.8,size:85,labels:cYTicks,lpad:9})});

// ---------------- PANEL D ----------------
DECO.cD={ox:0,oy:330,
  ticks:[{axis:'x',values:logMajor,len:7},{axis:'x',values:logMinorA,len:4},{axis:'y',values:dYTicks,len:6}],
  pow:{values:logMajor,exps:logExp,size:20,esize:14,dy:30,raise:8},
  lines:[{x1:315,x2:343,y:583,color:'#111',w:2.4},{x1:315,x2:343,y:607,color:'#6b6b6b',w:3,dash:[11,6]}],
  texts:[{text:'D',x:81.5,y:385,font:F(23,1)},
    {text:'Model',x:352,y:588.5,font:F(14)},{text:'Data trend',x:352,y:612.5,font:F(14)},
    {x:21.5,y:522,rot:-90,align:'center',base:'middle',parts:[{text:'Sharpness of tuning, ',font:F(19)},{text:'Q',font:'italic 19px '+FONT},{text:'ERB',font:F(11),dy:5}]}]};
mk('cD',{left:0,top:65,right:8,bottom:0},[
  L(dModel,'#111',2.4),
  L(dTrend,'#6b6b6b',3,{borderDash:[10,6],borderCapStyle:'butt'}),
  {data:pts(dUnits1.concat(dUnits2)),showLine:false,pointRadius:0.95,pointBackgroundColor:'#000',pointBorderWidth:0,pointBorderColor:'#000'}
],{x:S({axis:'x',type:'logarithmic',min:0.1,max:43.5,size:62,title:'Characteristic frequency (kHz)',tpad:1.4}),
   y:S({axis:'y',type:'logarithmic',min:1,max:15,size:79,labels:dYLabels,lpad:10.5})});

// ---------------- PANEL E ----------------
DECO.cE={ox:440,oy:330,
  ticks:[{axis:'x',values:eXTicks,len:7}],
  texts:[{text:'E',x:513,y:386.5,font:F(23,1)},
    {text:'Normalized impulse response',x:474,y:537,font:F(20),rot:-90,align:'center',base:'middle'},
    {text:'0.2 kHz',x:525,y:416,font:F(15),color:LB},{text:'0.4 kHz',x:525,y:465,font:F(15),color:GD},
    {text:'0.9 kHz',x:525,y:515,font:F(15),color:PU},{text:'6.5 kHz',x:525,y:568,font:F(15),color:BK},
    {text:'24 kHz',x:525,y:623,font:F(15),color:GN}]};
mk('cE',{left:0,top:65,right:22,bottom:0},[
  L(e02,LB,2),L(e04,GD,2.2),L(e09,PU,3.2),L(e65,BK,2),L(e24,GN,2),
  ...eOffsets.map(k=>L([[0,k],[15,k]],'#c4c4c4',1.2))
],{x:S({axis:'x',min:0,max:15,size:63,labels:eXTicks,lpad:9.7,title:'Time [periods of CF]',tpad:1.4}),
   y:S({axis:'y',min:-0.31,max:4.65,size:71,border:false})});

// ---------------- PANEL F ----------------
DECO.cF={ox:870,oy:330,
  ticks:[{axis:'x',values:fXTicks,len:7},{axis:'y',values:fYTicks,len:7}],
  texts:[{text:'F',x:956.5,y:386.5,font:F(23,1)},
    {text:'Instantaneous frequency re CF',x:890,y:524,font:F(20),rot:-90,align:'center',base:'middle'}]};
mk('cF',{left:0,top:65,right:17,bottom:0},[
  L(fPU,PU,3.2),L(fLB,LB,2.2),L(fGD,GD,2.2),L(fBK,BK,2.2),L(fGN,GN,2.2),
  L(fRef,'#111',1.1,{borderDash:[4,3],cubicInterpolationMode:'default'})
],{x:S({axis:'x',min:0,max:6,size:63,labels:fXTicks,lpad:6.5,title:'Time [periods of CF]',tpad:1.4}),
   y:S({axis:'y',min:0.5,max:2.6,size:87,labels:fYTicks,lpad:12})});

// ---------------- INSET ----------------
DECO.cI={ox:1030,oy:370,
  ticks:[{axis:'x',values:iXTicks,len:5},{axis:'y',values:iYTicks,len:5}],
  lines:[{x1:1173,x2:1203,y:483,color:'#111',w:2.6}],
  circles:[{x:1200,y:503,r:2.2,color:'#333',w:0.9}],
  texts:[{text:'Dimensionless slope',x:1041.5,y:465,font:F(15.5),rot:-90,align:'center',base:'middle'},
    {text:'Model',x:1207,y:489,font:F(15)},{text:'Data',x:1207,y:509,font:F(15)}]};
mk('cI',{left:0,top:13,right:13,bottom:0},[
  L(insModel,'#111',2.4),
  {data:pts(insData),showLine:false,pointRadius:2.1,pointBackgroundColor:'rgba(0,0,0,0)',pointBorderWidth:0.9,pointBorderColor:'#333'},
  L(insZero,'#111',1,{cubicInterpolationMode:'default'})
],{x:S({axis:'x',type:'logarithmic',min:0.255,max:5.0,size:40,labels:iXLabels,lsize:13.5,lpad:1.2,title:'CF [kHz]',tsize:15.5,tpad:5.7}),
   y:S({axis:'y',min:-0.505,max:0.303,size:53,labels:iYLabels,lsize:13.5,lpad:5})});
</script>
</body></html>
